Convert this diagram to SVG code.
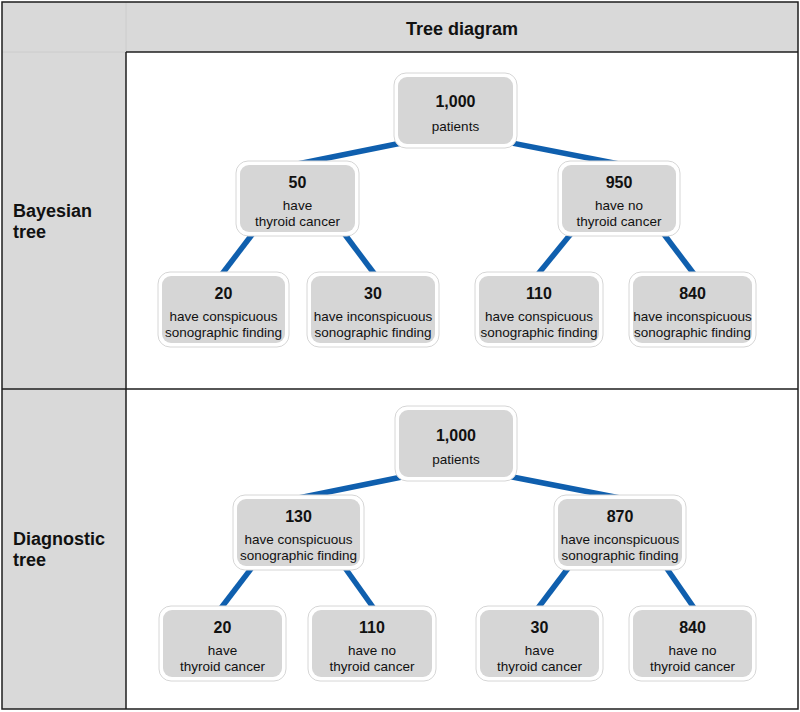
<svg xmlns="http://www.w3.org/2000/svg" width="800" height="712" viewBox="0 0 800 712">
<style>
.frame{fill:none;stroke:#1e1e1e;stroke-width:1.5}
.seam{stroke:#cccccc;stroke-width:1}
.hdr{font-family:"Liberation Sans",Arial,sans-serif;font-weight:bold;font-size:18px;fill:#111}
.outer{fill:#ffffff;stroke:#d6d6d6;stroke-width:1}
.inner{fill:#d6d6d6}
.num{font-family:"Liberation Sans",Arial,sans-serif;font-weight:bold;font-size:16px;fill:#111;text-anchor:middle}
.lbl{font-family:"Liberation Sans",Arial,sans-serif;font-size:13.5px;fill:#111;text-anchor:middle}
.edge{stroke:#0f5fae;stroke-width:5.5;stroke-linecap:butt}
</style>
<rect x="2" y="2" width="796" height="707" fill="#d9d9d9"/>
<rect x="126" y="52" width="672" height="657" fill="#ffffff"/>
<line class="seam" x1="126" y1="2" x2="126" y2="52"/>
<line class="seam" x1="2" y1="52" x2="126" y2="52"/>
<g class="frame">
<rect x="2" y="2" width="796" height="707"/>
<line x1="126" y1="52" x2="798" y2="52"/>
<line x1="126" y1="52" x2="126" y2="709"/>
<line x1="2" y1="389" x2="798" y2="389"/>
</g>
<text class="hdr" x="462" y="35" text-anchor="middle">Tree diagram</text>
<text class="hdr" x="13" y="217">Bayesian</text>
<text class="hdr" x="13" y="238">tree</text>
<text class="hdr" x="13" y="545">Diagnostic</text>
<text class="hdr" x="13" y="566">tree</text>

<g id="connectors">
<line class="edge" x1="456" y1="132" x2="297.5" y2="164"/>
<line class="edge" x1="456" y1="132" x2="619" y2="164"/>
<line class="edge" x1="255.5" y1="230" x2="220.5" y2="276"/>
<line class="edge" x1="341.5" y1="230" x2="376" y2="276"/>
<line class="edge" x1="574" y1="230" x2="536.5" y2="276"/>
<line class="edge" x1="660.7" y1="230" x2="695.5" y2="276"/>
<line class="edge" x1="456" y1="466" x2="298.5" y2="498"/>
<line class="edge" x1="456" y1="466" x2="620" y2="498"/>
<line class="edge" x1="255.5" y1="563" x2="219.5" y2="610"/>
<line class="edge" x1="341.5" y1="563" x2="375" y2="610"/>
<line class="edge" x1="572" y1="563" x2="536.5" y2="610"/>
<line class="edge" x1="663" y1="563" x2="695.5" y2="610"/>
</g>

<g id="b-root"><rect class="outer" x="394" y="73" width="123" height="75" rx="12"/><rect class="inner" x="398" y="77" width="115" height="67" rx="9"/>
<text class="num" x="455.5" y="107">1,000</text><text class="lbl" x="455.5" y="131">patients</text></g>
<g id="b-50"><rect class="outer" x="236" y="161" width="123" height="75" rx="12"/><rect class="inner" x="240" y="165" width="115" height="67" rx="9"/>
<text class="num" x="297.5" y="188">50</text><text class="lbl" x="297.5" y="209.5">have</text><text class="lbl" x="297.5" y="225.5">thyroid cancer</text></g>
<g id="b-950"><rect class="outer" x="558" y="161" width="122" height="75" rx="12"/><rect class="inner" x="562" y="165" width="114" height="67" rx="9"/>
<text class="num" x="619" y="188">950</text><text class="lbl" x="619" y="209.5">have no</text><text class="lbl" x="619" y="225.5">thyroid cancer</text></g>
<g id="b-20"><rect class="outer" x="158" y="272" width="131" height="75" rx="12"/><rect class="inner" x="162" y="276" width="123" height="67" rx="9"/>
<text class="num" x="223.5" y="299">20</text><text class="lbl" x="223.5" y="320.5">have conspicuous</text><text class="lbl" x="223.5" y="336.5">sonographic finding</text></g>
<g id="b-30"><rect class="outer" x="307" y="272" width="132" height="75" rx="12"/><rect class="inner" x="311" y="276" width="124" height="67" rx="9"/>
<text class="num" x="373" y="299">30</text><text class="lbl" x="373" y="320.5">have inconspicuous</text><text class="lbl" x="373" y="336.5">sonographic finding</text></g>
<g id="b-110"><rect class="outer" x="475" y="272" width="128" height="75" rx="12"/><rect class="inner" x="479" y="276" width="120" height="67" rx="9"/>
<text class="num" x="539" y="299">110</text><text class="lbl" x="539" y="320.5">have conspicuous</text><text class="lbl" x="539" y="336.5">sonographic finding</text></g>
<g id="b-840"><rect class="outer" x="629" y="272" width="127" height="75" rx="12"/><rect class="inner" x="633" y="276" width="119" height="67" rx="9"/>
<text class="num" x="692.5" y="299">840</text><text class="lbl" x="692.5" y="320.5">have inconspicuous</text><text class="lbl" x="692.5" y="336.5">sonographic finding</text></g>

<g id="d-root"><rect class="outer" x="395" y="406" width="122" height="75" rx="12"/><rect class="inner" x="399" y="410" width="114" height="67" rx="9"/>
<text class="num" x="456" y="440.5">1,000</text><text class="lbl" x="456" y="464">patients</text></g>
<g id="d-130"><rect class="outer" x="233" y="495" width="131" height="75" rx="12"/><rect class="inner" x="237" y="499" width="123" height="67" rx="9"/>
<text class="num" x="298.5" y="522">130</text><text class="lbl" x="298.5" y="543.5">have conspicuous</text><text class="lbl" x="298.5" y="559.5">sonographic finding</text></g>
<g id="d-870"><rect class="outer" x="554" y="495" width="132" height="75" rx="12"/><rect class="inner" x="558" y="499" width="124" height="67" rx="9"/>
<text class="num" x="620" y="522">870</text><text class="lbl" x="620" y="543.5">have inconspicuous</text><text class="lbl" x="620" y="559.5">sonographic finding</text></g>
<g id="d-20"><rect class="outer" x="159" y="606" width="127" height="75" rx="12"/><rect class="inner" x="163" y="610" width="119" height="67" rx="9"/>
<text class="num" x="222.5" y="633">20</text><text class="lbl" x="222.5" y="654.5">have</text><text class="lbl" x="222.5" y="670.5">thyroid cancer</text></g>
<g id="d-110"><rect class="outer" x="308" y="606" width="128" height="75" rx="12"/><rect class="inner" x="312" y="610" width="120" height="67" rx="9"/>
<text class="num" x="372" y="633">110</text><text class="lbl" x="372" y="654.5">have no</text><text class="lbl" x="372" y="670.5">thyroid cancer</text></g>
<g id="d-30"><rect class="outer" x="476" y="606" width="127" height="75" rx="12"/><rect class="inner" x="480" y="610" width="119" height="67" rx="9"/>
<text class="num" x="539.5" y="633">30</text><text class="lbl" x="539.5" y="654.5">have</text><text class="lbl" x="539.5" y="670.5">thyroid cancer</text></g>
<g id="d-840"><rect class="outer" x="629" y="606" width="127" height="75" rx="12"/><rect class="inner" x="633" y="610" width="119" height="67" rx="9"/>
<text class="num" x="692.5" y="633">840</text><text class="lbl" x="692.5" y="654.5">have no</text><text class="lbl" x="692.5" y="670.5">thyroid cancer</text></g>
</svg>
